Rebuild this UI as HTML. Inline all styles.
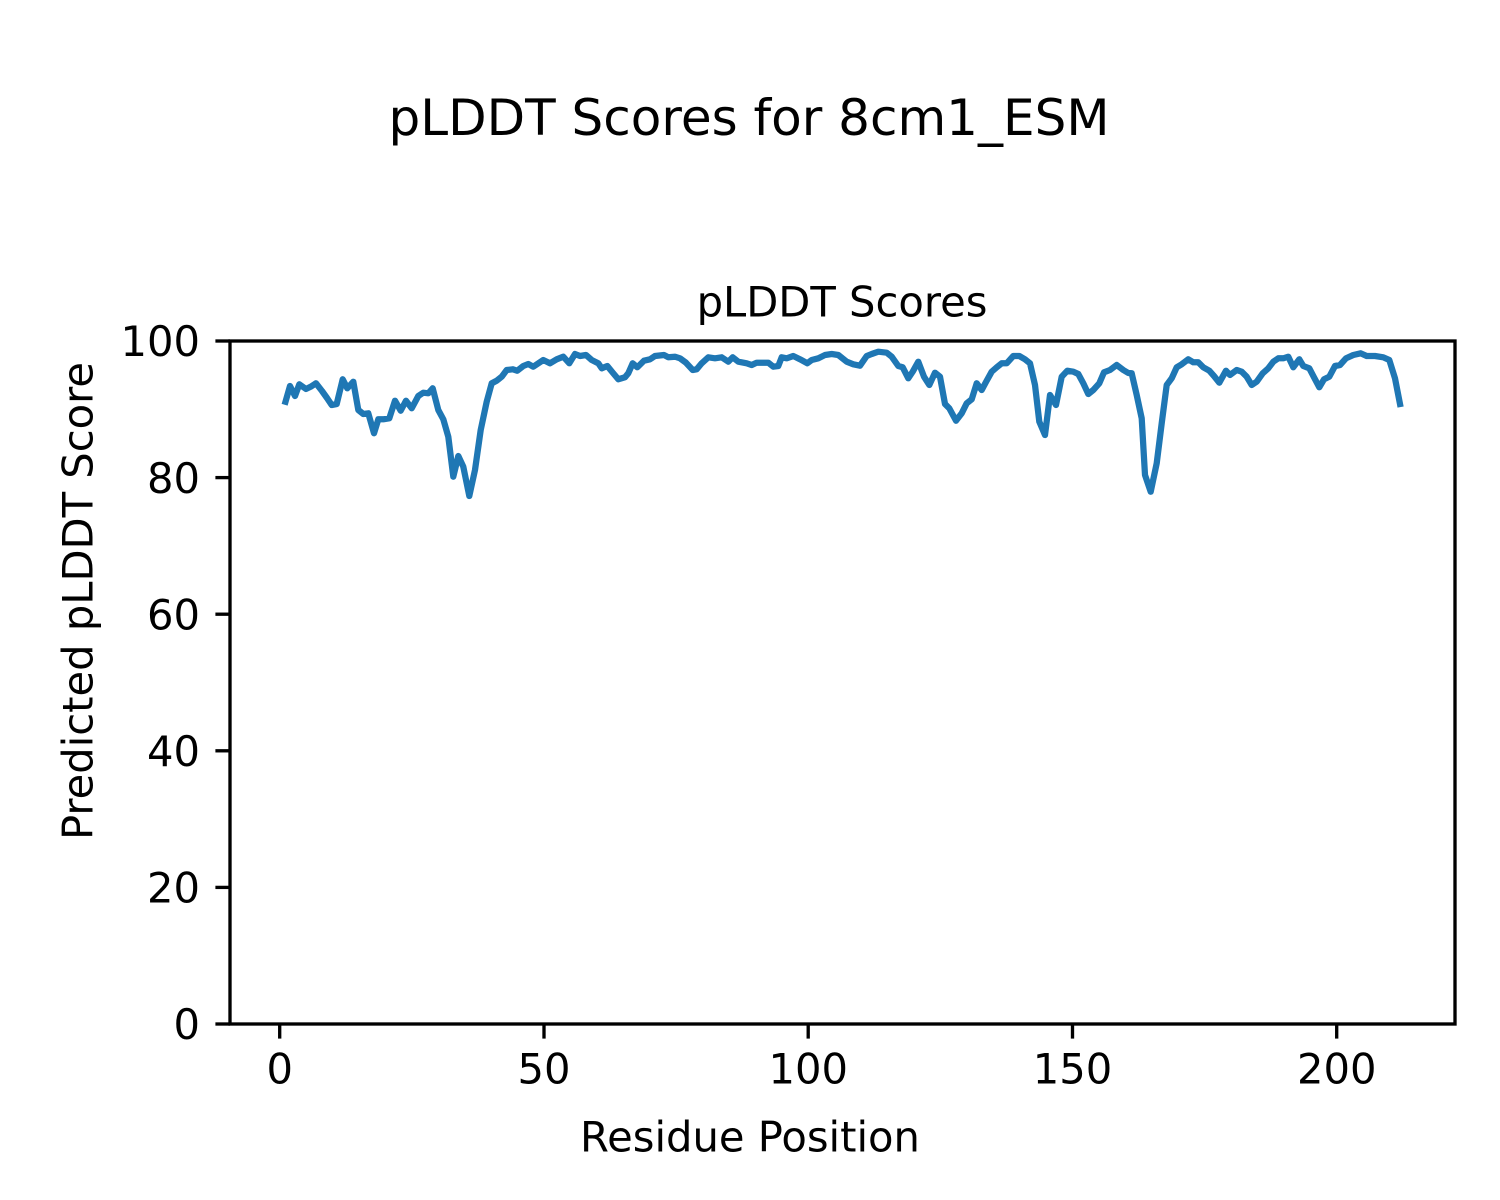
<!DOCTYPE html>
<html>
<head>
<meta charset="utf-8">
<style>
  html,body{margin:0;padding:0;background:#fff;}
  svg{display:block;}
  text{font-family:"DejaVu Sans","Liberation Sans",sans-serif;fill:#000;}
</style>
</head>
<body>
<svg width="1500" height="1200" viewBox="0 0 1500 1200" xmlns="http://www.w3.org/2000/svg">
  <rect x="0" y="0" width="1500" height="1200" fill="#fff"/>
  <text x="749" y="135" font-size="50" text-anchor="middle">pLDDT Scores for 8cm1_ESM</text>
  <text x="842" y="316.5" font-size="41.67" text-anchor="middle">pLDDT Scores</text>

  <polyline fill="none" stroke="#1f77b4" stroke-width="6.25" stroke-linejoin="round" stroke-linecap="square"
   points="285.5,401.7 290,386 295,396 299.3,384.3 306,389 310.7,386.7 316,383.3 322,391 327,398 331.7,405 336.7,404 342.7,379.3 347.3,388.3 353.3,381.7 358.3,410 363.3,414 368.3,413.3 374,433.3 378.3,419.3 383.3,419.3 389.3,418.3 395,400.7 400.7,410.7 406,400.7 411.7,408.3 418.3,396 423.3,392.7 428.3,393.3 432.7,388.3 438.3,410 443.3,419.3 448.3,436.7 453.3,476.7 458.3,456 463.3,466.7 469.3,496 475,470 480.7,430 486.7,401.7 491.7,383.3 496.7,380.7 501.7,376.7 506.7,370 512.7,369.3 517.3,370.7 523.3,366 528.3,364 533.3,366.7 543.3,360 550,363.3 556.7,359.3 563.3,356.7 569.3,363.3 575,354 580,356 586,355 591.7,360 598.3,363.3 601.7,368.3 607.3,366 613.3,373.3 618.3,379.3 625,377.3 628.3,373.3 632.7,363.3 637.3,367.3 644,360.7 650,359.3 655,356 664,355 668.3,357.3 675,356.7 680,358.3 686,362.7 692.7,370 696.7,369.3 701.7,363.3 708.3,357.3 715,358.3 721.7,357.3 728.3,361.7 732.7,357.3 738.3,361.7 746.7,363.3 751.7,365 756.7,362.7 763.3,362.7 768.3,362.7 773.3,366.7 778.3,366 781.7,357.3 786.7,358.3 793.3,356 800,359.3 807.3,363.3 811.7,360 818.3,358.3 825,355 831.7,354 838.3,355 846.7,361.7 853.3,364.3 860,365.7 866.7,356 871.7,354 878.3,351.7 886.7,352.7 891.7,356.7 898.3,366 902.7,367.3 908.3,378.3 912.7,371.7 918.3,361.7 924,376.7 929.3,385 935,372.7 940,376.7 945,404 949.3,408.3 956,420.7 961.7,413.3 966.7,403.3 971.7,399.3 976.7,383.3 981.7,390 986.7,380.7 991.7,371.7 996.7,367.3 1001.7,363.3 1006.7,363.3 1013.3,356 1019.3,356 1025,359.3 1030,363.3 1035,385 1039.3,421.7 1045,435 1050,395 1056,405 1061.7,376.7 1067.3,370.7 1073.3,371.7 1078.3,374 1083.3,383.3 1088.3,394 1093.3,390 1099.3,383.3 1104,372.3 1110,370 1116.7,365 1123.3,370 1128.3,373 1131.7,373.3 1136.7,395 1141.7,418.3 1145,475 1150.7,491.7 1156.7,463.3 1161.7,423.3 1166.7,385 1171.7,378.3 1176.7,367.3 1181.7,364.3 1188.3,359.3 1193.3,362.3 1198.3,362.3 1203.3,367.3 1209.3,370.7 1214,376 1219.3,382.7 1226,370.7 1230,375 1236.7,370 1241.7,371.7 1246.7,376.7 1251.7,385 1256.7,381.7 1262.7,373.3 1268.3,368.3 1273.3,361.7 1278.3,358.3 1283.3,358.3 1288.3,356.7 1293.3,367.3 1299.3,359.3 1303.3,366 1309.3,368.3 1314,377.3 1319.3,387.3 1324,379.3 1329.3,376.7 1335,366 1340,365 1346,358.3 1353.3,355 1360.7,353.3 1366.7,356 1375,356 1383.3,357.3 1389.3,360 1395,378.3 1400,404"/>

  <rect x="230" y="341" width="1225" height="683" fill="none" stroke="#000" stroke-width="3.33" stroke-linejoin="miter"/>

  <g stroke="#000" stroke-width="3.33">
    <line x1="215.4" y1="1024" x2="230" y2="1024"/>
    <line x1="215.4" y1="887.4" x2="230" y2="887.4"/>
    <line x1="215.4" y1="750.8" x2="230" y2="750.8"/>
    <line x1="215.4" y1="614.2" x2="230" y2="614.2"/>
    <line x1="215.4" y1="477.6" x2="230" y2="477.6"/>
    <line x1="215.4" y1="341" x2="230" y2="341"/>
    <line x1="279.7" y1="1024" x2="279.7" y2="1038.6"/>
    <line x1="544" y1="1024" x2="544" y2="1038.6"/>
    <line x1="808.2" y1="1024" x2="808.2" y2="1038.6"/>
    <line x1="1072.5" y1="1024" x2="1072.5" y2="1038.6"/>
    <line x1="1336.7" y1="1024" x2="1336.7" y2="1038.6"/>
  </g>

  <g font-size="41.67" text-anchor="end">
    <text x="200" y="1039.2">0</text>
    <text x="200" y="902.6">20</text>
    <text x="200" y="766">40</text>
    <text x="200" y="629.4">60</text>
    <text x="200" y="492.8">80</text>
    <text x="200" y="356.2">100</text>
  </g>
  <g font-size="41.67" text-anchor="middle">
    <text x="279.7" y="1083.3">0</text>
    <text x="544" y="1083.3">50</text>
    <text x="808.2" y="1083.3">100</text>
    <text x="1072.5" y="1083.3">150</text>
    <text x="1336.7" y="1083.3">200</text>
  </g>

  <text x="750" y="1151.7" font-size="41.67" text-anchor="middle">Residue Position</text>
  <text transform="translate(92.5,601) rotate(-90)" x="0" y="0" font-size="41.67" text-anchor="middle">Predicted pLDDT Score</text>
</svg>
</body>
</html>
